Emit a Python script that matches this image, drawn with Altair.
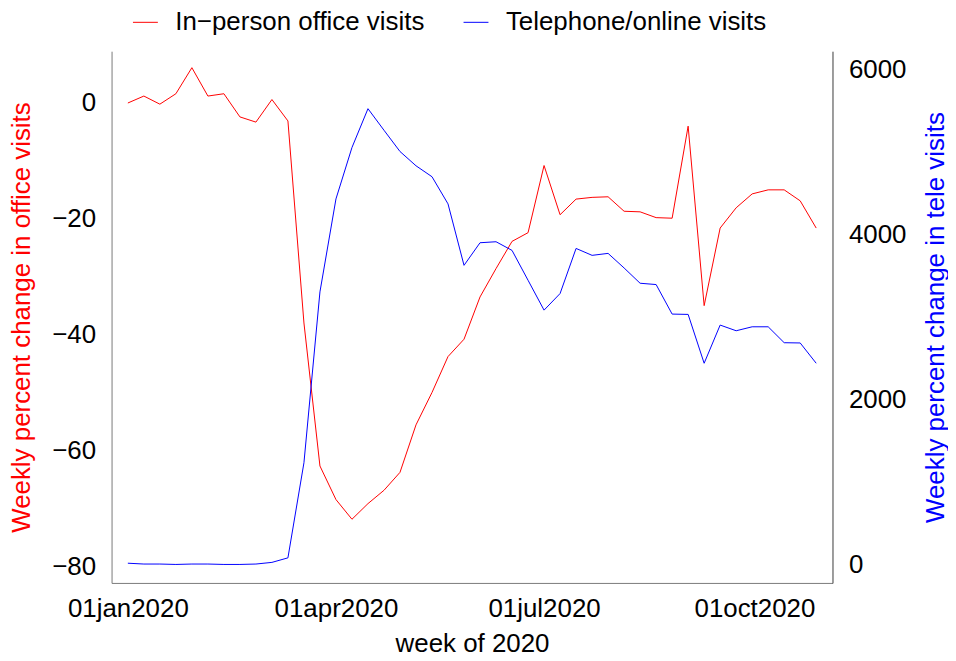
import altair as alt
import pandas as pd

weeks = [
    "2020-01-01", "2020-01-08", "2020-01-15", "2020-01-22", "2020-01-29",
    "2020-02-05", "2020-02-12", "2020-02-19", "2020-02-26",
    "2020-03-04", "2020-03-11", "2020-03-18", "2020-03-25",
    "2020-04-01", "2020-04-08", "2020-04-15", "2020-04-22", "2020-04-29",
    "2020-05-06", "2020-05-13", "2020-05-20", "2020-05-27",
    "2020-06-03", "2020-06-10", "2020-06-17", "2020-06-24",
    "2020-07-01", "2020-07-08", "2020-07-15", "2020-07-22", "2020-07-29",
    "2020-08-05", "2020-08-12", "2020-08-19", "2020-08-26",
    "2020-09-02", "2020-09-09", "2020-09-16", "2020-09-23", "2020-09-30",
    "2020-10-07", "2020-10-14", "2020-10-21", "2020-10-28",
]
office_change = [
    0.0, 1.2, -0.2, 1.6, 6.1, 1.2, 1.6, -2.4, -3.3, 0.6, -3.1,
    -38.0, -62.7, -68.5, -71.9, -69.2, -66.9, -63.8, -55.6, -50.0, -43.8, -40.8,
    -33.5, -28.6, -23.9, -22.4, -10.8, -19.3, -16.6, -16.3, -16.2, -18.7, -18.8,
    -19.8, -19.9, -4.0, -35.0, -21.6, -18.1, -15.7, -15.0, -15.0, -16.9, -21.6,
]
tele_visits = [
    10, 0, 0, -5, 0, 0, -5, -5, 0, 20, 75,
    1228, 3299, 4426, 5049, 5520, 5259, 5001, 4828, 4695, 4366, 3621,
    3895, 3907, 3802, 3440, 3078, 3279, 3826, 3742, 3766, 3589, 3404,
    3388, 3030, 3026, 2434, 2897, 2828, 2876, 2876, 2683, 2680, 2434,
]
series_names = ["In\u2212person office visits", "Telephone/online visits"]
series_colors = ["#FF0000", "#0000FF"]
x_tick_months = [1, 4, 7, 10]
left_ticks = [0, -20, -40, -60, -80]
right_ticks = [0, 2000, 4000, 6000]

df = pd.DataFrame({
    "week": [w + "T00:00:00" for w in weeks],
    "office": office_change,
    "tele": tele_visits,
})

FONT = "Liberation Sans"
FS = 26

color_scale = alt.Scale(domain=series_names, range=series_colors)
legend = alt.Legend(
    orient="none", legendX=21, legendY=-42, direction="horizontal", title=None,
    symbolType="stroke", symbolSize=625, symbolStrokeWidth=1,
    labelFont=FONT, labelFontSize=FS, labelColor="black", labelOffset=17,
    columnPadding=36, labelLimit=600, padding=0,
)

x_enc = alt.X(
    "week:T",
    scale=alt.Scale(domain=[
        alt.DateTime(year=2019, month=12, date=24, hours=21),
        alt.DateTime(year=2020, month=11, date=4, hours=3),
    ]),
    axis=alt.Axis(
        values=[alt.DateTime(year=2020, month=m, date=1) for m in x_tick_months],
        labelExpr="lower(timeFormat(datum.value, '%d%b%Y'))",
        title="week of 2020", labelPadding=13, titlePadding=9,
        domainColor="#7a7a7a", labelFlush=False,
    ),
)

office_line = alt.Chart(df).transform_calculate(
    series=f"'{series_names[0]}'"
).mark_line(strokeWidth=1).encode(
    x=x_enc,
    y=alt.Y(
        "office:Q",
        scale=alt.Scale(domain=[-82.9, 8.95], nice=False, zero=False),
        axis=alt.Axis(
            orient="left", values=left_ticks,
            title="Weekly percent change in office visits", titleColor="#FF0000",
            labelPadding=16, titlePadding=17, domainColor="#7a7a7a",
        ),
    ),
    color=alt.Color("series:N", scale=color_scale, legend=legend),
)

tele_line = alt.Chart(df).transform_calculate(
    series=f"'{series_names[1]}'"
).mark_line(strokeWidth=1).encode(
    x=x_enc,
    y=alt.Y(
        "tele:Q",
        scale=alt.Scale(domain=[-229, 6217], nice=False, zero=False),
        axis=alt.Axis(
            orient="right", values=right_ticks, format="d",
            title="Weekly percent change in tele visits", titleColor="#0000FF",
            titleAngle=270, titleBaseline="top",
            labelPadding=16, titlePadding=17, domainColor="#3a3a3a",
        ),
    ),
    color=alt.Color("series:N", scale=color_scale, legend=legend),
)

chart = alt.layer(office_line, tele_line).resolve_scale(
    y="independent"
).properties(
    width=724, height=534,
    autosize=alt.AutoSizeParams(type="none"),
    padding={"left": 104, "top": 42, "right": 116, "bottom": 71},
).configure_view(
    stroke=None
).configure_axis(
    grid=False, ticks=False, tickSize=0,
    labelFont=FONT, labelFontSize=FS, labelColor="black",
    titleFont=FONT, titleFontSize=FS, titleFontWeight="normal", titleColor="black",
    domainWidth=1,
)

chart.save("out.html", embed_options={"renderer": "svg", "actions": False})
